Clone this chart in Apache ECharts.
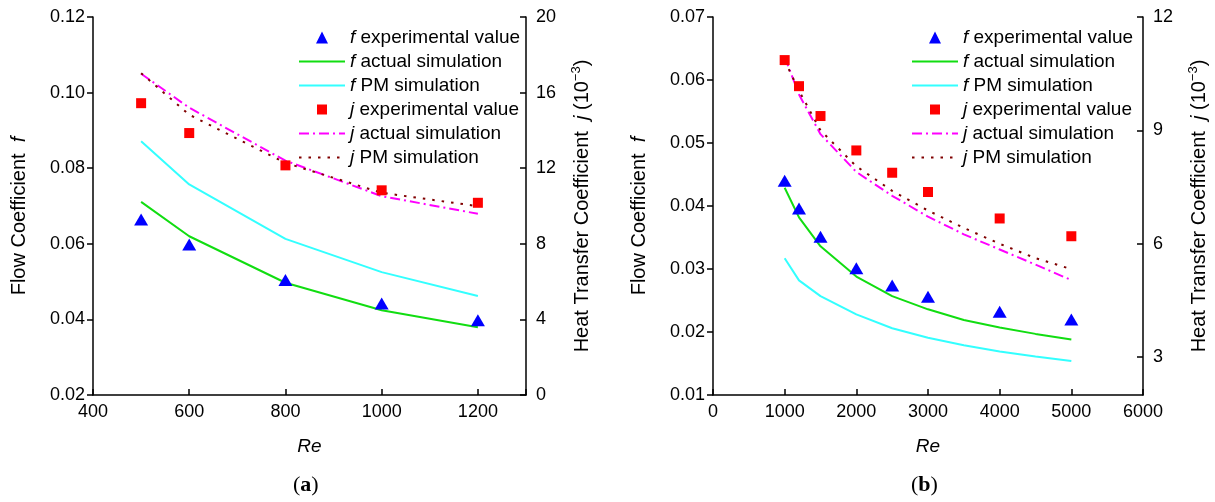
<!DOCTYPE html>
<html>
<head>
<meta charset="utf-8">
<script src="https://cdn.jsdelivr.net/npm/echarts@6.0.0/dist/echarts.min.js"></script>
<style>
html, body { margin: 0; padding: 0; background: #fff; }
#chart { width: 1215px; height: 502px; }
</style>
</head>
<body>
<div id="chart"></div>
<script>
// (a) low Re
var reA = [500, 600, 800, 1000, 1200];
var fExpA = [0.0664, 0.0598, 0.0504, 0.0442, 0.0398];
var fActA = [0.0711, 0.0620, 0.0497, 0.0424, 0.0379];
var fPmA = [0.0871, 0.0757, 0.0613, 0.0525, 0.0462];
var jExpA = [15.44, 13.86, 12.15, 10.83, 10.17];
var jActA = [17.0, 15.2, 12.4, 10.52, 9.59];
var jPmA = [17.03, 14.83, 12.28, 10.70, 9.99];

// (b) high Re
var reB = [1000, 1200, 1500, 2000, 2500, 3000, 4000, 5000];
var reSimB = [1000, 1200, 1500, 2000, 2500, 3000, 3500, 4000, 4500, 5000];
var fExpB = [0.0440, 0.0396, 0.0351, 0.0301, 0.0274, 0.0256, 0.0232, 0.0220];
var fActB = [0.0429, 0.0382, 0.0336, 0.0288, 0.0257, 0.0236, 0.0219, 0.0207, 0.0197, 0.0188];
var fPmB = [0.0317, 0.0282, 0.0257, 0.0228, 0.0206, 0.0191, 0.0179, 0.0169, 0.0161, 0.0154];
var jExpB = [10.86, 10.17, 9.38, 8.47, 7.88, 7.37, 6.67, 6.20];
var jActB = [10.95, 9.95, 8.9, 7.9, 7.27, 6.72, 6.25, 5.85, 5.45, 5.04];
var jPmB = [10.85, 10.05, 9.0, 8.05, 7.4, 6.88, 6.42, 6.0, 5.62, 5.33];

var names = ['f experimental value', 'f actual simulation', 'f PM simulation',
             'j experimental value', 'j actual simulation', 'j PM simulation'];

var FONT = 'Liberation Sans';

function pairs(xs, ys) {
  return xs.map(function (x, i) { return [x, ys[i]]; });
}

var chart = echarts.init(document.getElementById('chart'));

var axisLine = { lineStyle: { color: '#000', width: 1.5 } };
var labelStyle = { color: '#000', fontSize: 18, fontFamily: FONT };

function xAx(idx, min, max, interval) {
  return {
    type: 'value', gridIndex: idx, min: min, max: max, interval: interval,
    axisLine: axisLine, splitLine: { show: false },
    axisTick: { inside: true, length: 6, lineStyle: { color: '#000', width: 1.5 } },
    axisLabel: Object.assign({ margin: 8, formatter: function (v) { return v > 1250 && v < 1350 ? '' : v; } }, labelStyle),
    name: 'Re', nameLocation: 'middle', nameGap: 42,
    nameTextStyle: { color: '#000', fontSize: 19, fontFamily: FONT, fontStyle: 'italic' }
  };
}

function fAx(idx, min, max, interval) {
  return {
    type: 'value', gridIndex: idx, position: 'left', min: min, max: max, interval: interval,
    axisLine: axisLine, splitLine: { show: false },
    axisTick: { inside: false, length: 6, lineStyle: { color: '#000', width: 1.5 } },
    axisLabel: Object.assign({ margin: 8, formatter: function (v) { return v.toFixed(2); } }, labelStyle),
    name: 'Flow Coefficient  {i|f}', nameLocation: 'middle', nameGap: 64,
    nameTextStyle: { color: '#000', fontSize: 20, fontFamily: FONT, padding: [0, 0, 0, -20],
      rich: { i: { fontStyle: 'italic', fontSize: 20, fontFamily: FONT, color: '#000' } } }
  };
}

function jAx(idx, min, max, interval, custom) {
  var ax = {
    type: 'value', gridIndex: idx, position: 'right', min: min, max: max, interval: interval,
    axisLine: axisLine, splitLine: { show: false },
    axisTick: { inside: true, length: 6, lineStyle: { color: '#000', width: 1.5 } },
    axisLabel: Object.assign({ margin: 10 }, labelStyle),
    name: 'Heat Transfer Coefficient  {i|j} (10{sup|\u22123})', nameLocation: 'middle', nameGap: 44,
    nameTextStyle: { color: '#000', fontSize: 20, fontFamily: FONT,
      rich: {
        i: { fontStyle: 'italic', fontSize: 20, fontFamily: FONT, color: '#000' },
        sup: { fontSize: 13, fontFamily: FONT, color: '#000', padding: [0, 0, 11, 0] }
      } }
  };
  if (custom) {
    ax.axisLabel.customValues = custom;
    ax.axisTick.customValues = custom;
  }
  return ax;
}

function legendFmt(name) {
  return '{i|' + name.charAt(0) + '} ' + name.slice(2);
}

// marker icons: corner moveTo points keep the 46x13 box so the shape is not stretched
var triIcon = 'path://M0,0M46,13M17,12.5L23,0.5L29,12.5Z';
var sqIcon = 'path://M0,0M46,13M18,1.5L28,1.5L28,11.5L18,11.5Z';

// lines show only the stroke in the legend
var legendData = names.map(function (n, i) {
  if (i === 0) return { name: n, icon: triIcon };
  if (i === 3) return { name: n, icon: sqIcon };
  return { name: n, itemStyle: { opacity: 0, color: 'rgba(0,0,0,0)', borderWidth: 0 } };
});

function legend(left) {
  return {
    data: legendData, left: left, top: 23, orient: 'vertical',
    itemWidth: 46, itemHeight: 13, itemGap: 5,
    textStyle: { fontSize: 19, color: '#000', fontFamily: FONT,
      rich: { i: { fontStyle: 'italic', fontSize: 19, color: '#000', fontFamily: FONT } } },
    formatter: legendFmt
  };
}

function makeSeries(xi, yf, yj, reExp, reSim, fe, fa, fp, je, ja, jp) {
  return [
    { name: names[0], type: 'scatter', xAxisIndex: xi, yAxisIndex: yf, data: pairs(reExp, fe),
      symbol: 'triangle', symbolSize: [14, 12], itemStyle: { color: '#0000ff', opacity: 1 }, z: 5 },
    { name: names[1], type: 'line', xAxisIndex: xi, yAxisIndex: yf, data: pairs(reSim, fa),
      symbol: 'none', lineStyle: { color: '#11dd11', width: 2 }, itemStyle: { color: '#11dd11' } },
    { name: names[2], type: 'line', xAxisIndex: xi, yAxisIndex: yf, data: pairs(reSim, fp),
      symbol: 'none', lineStyle: { color: '#33ffff', width: 2 }, itemStyle: { color: '#33ffff' } },
    { name: names[3], type: 'scatter', xAxisIndex: xi, yAxisIndex: yj, data: pairs(reExp, je),
      symbol: 'rect', symbolSize: 10, itemStyle: { color: '#ff0000', opacity: 1 }, z: 5 },
    { name: names[4], type: 'line', xAxisIndex: xi, yAxisIndex: yj, data: pairs(reSim, ja),
      symbol: 'none', lineStyle: { color: '#ff00ff', width: 2, type: [10, 4, 2, 4] }, itemStyle: { color: '#ff00ff' } },
    { name: names[5], type: 'line', xAxisIndex: xi, yAxisIndex: yj, data: pairs(reSim, jp),
      symbol: 'none', lineStyle: { color: '#800000', width: 2, type: [2.5, 7] }, itemStyle: { color: '#800000' } }
  ];
}

var option = {
  animation: false,
  backgroundColor: '#fff',
  grid: [
    { left: 93, top: 17, width: 433, height: 378 },
    { left: 713, top: 17, width: 430, height: 378 }
  ],
  xAxis: [xAx(0, 400, 1300, 200), xAx(1, 0, 6000, 1000)],
  yAxis: [
    fAx(0, 0.02, 0.12, 0.02),
    jAx(0, 0, 20, 4),
    fAx(1, 0.01, 0.07, 0.01),
    jAx(1, 2, 12, 1, [3, 6, 9, 12])
  ],
  legend: [legend(293), legend(906)],
  series: makeSeries(0, 0, 1, reA, reA, fExpA, fActA, fPmA, jExpA, jActA, jPmA)
    .concat(makeSeries(1, 2, 3, reB, reSimB, fExpB, fActB, fPmB, jExpB, jActB, jPmB)),
  graphic: [
    { type: 'text', left: 293, top: 474, style: { text: '({b|a})', fill: '#000',
      font: '22px "Liberation Serif"', rich: { b: { fontWeight: 'bold', fontSize: 22, fontFamily: 'Liberation Serif' } } } },
    { type: 'text', left: 911, top: 474, style: { text: '({b|b})', fill: '#000',
      font: '22px "Liberation Serif"', rich: { b: { fontWeight: 'bold', fontSize: 22, fontFamily: 'Liberation Serif' } } } }
  ]
};

chart.setOption(option);
</script>
</body>
</html>
